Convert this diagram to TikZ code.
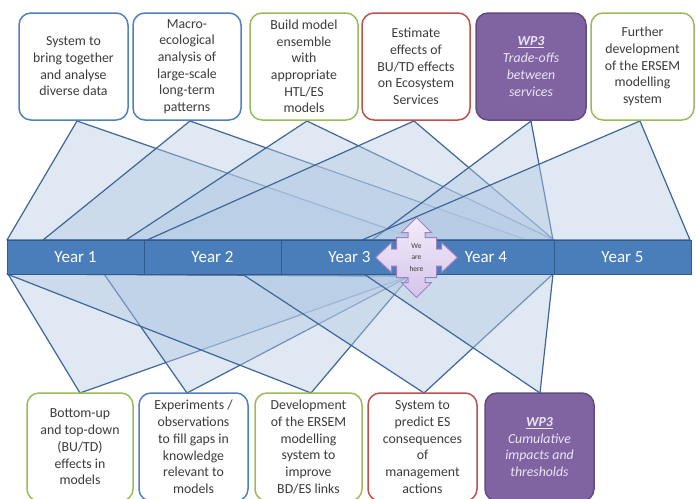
\documentclass[tikz,border=0pt]{standalone}
\usepackage{fontspec}
\setmainfont{Carlito}
\usetikzlibrary{calc}
\definecolor{tri}{RGB}{180,202,228}
\definecolor{triline}{RGB}{62,103,152}
\definecolor{barblue}{RGB}{74,126,187}
\definecolor{barline}{RGB}{52,90,138}
\definecolor{bblue}{RGB}{79,129,189}
\definecolor{bgreen}{RGB}{155,187,89}
\definecolor{bred}{RGB}{192,80,77}
\definecolor{bpurple}{RGB}{128,100,162}
\definecolor{bpurpleline}{RGB}{98,76,128}
\definecolor{txt}{RGB}{60,60,60}
\definecolor{wptxt}{RGB}{236,228,245}
\definecolor{arrtop}{RGB}{242,236,250}
\definecolor{arrbot}{RGB}{214,196,236}
\definecolor{arrline}{RGB}{158,128,192}
\tikzset{
  tribox/.style={fill=tri, fill opacity=0.42, draw=triline, draw opacity=1, line width=1.2pt, line join=round},
  card/.style={rounded corners=12pt, fill=white, line width=1.5pt, draw, align=center, inner sep=0pt,
    text=txt, font=\fontsize{13.8}{16.7}\selectfont},
  wpcard/.style={card, fill=bpurple, draw=bpurpleline, text=wptxt, font=\fontsize{13.8}{16.7}\selectfont\itshape},
  yearbox/.style={rectangle, fill=barblue, draw=barline, line width=1pt, minimum height=34pt, inner sep=0pt,
    text=white, font=\fontsize{17}{20}\selectfont},
}
\begin{document}
\begin{tikzpicture}[x=1pt,y=-1pt]
\clip (0,0) rectangle (696,498);
\fill[white] (0,0) rectangle (696,498);

% ---- top triangle points
\coordinate (a1) at (77,121);  \coordinate (l1) at (7,240);   \coordinate (r1) at (420,240);
\coordinate (a2) at (190,121); \coordinate (l2) at (43,240);  \coordinate (r2) at (527,240);
\coordinate (a3) at (307,121); \coordinate (l3) at (126,240); \coordinate (r3) at (554,240);
\coordinate (a4) at (414,121); \coordinate (l4) at (147,240); \coordinate (r4) at (554,240);
\coordinate (a5) at (531,121); \coordinate (l5) at (372,240); \coordinate (r5) at (553,240);
\coordinate (a6) at (640,121); \coordinate (l6) at (362,240); \coordinate (r6) at (690,240);
% ---- bottom triangle points
\coordinate (b1) at (80,393);  \coordinate (m1) at (8,274);   \coordinate (n1) at (410,276);
\coordinate (b2) at (187,393); \coordinate (m2) at (104,274); \coordinate (n2) at (410,276);
\coordinate (b3) at (311,393); \coordinate (m3) at (7,274);   \coordinate (n3) at (410,276);
\coordinate (b4) at (424,393); \coordinate (m4) at (242,274); \coordinate (n4) at (553,274);
\coordinate (b5) at (540,393); \coordinate (m5) at (364,274); \coordinate (n5) at (553,274);

\foreach \i in {1,...,6}{ \path[tribox] (a\i) -- (l\i) -- (r\i) -- cycle; }
\foreach \i in {1,...,5}{ \path[tribox] (b\i) -- (m\i) -- (n\i) -- cycle; }

% ---- timeline bar
\node[yearbox, minimum width=137pt] (y1) at (75.5,257) {Year 1};
\node[yearbox, minimum width=137pt] (y2) at (212.5,257) {Year 2};
\node[yearbox, minimum width=137pt] (y3) at (349.5,257) {Year 3};
\node[yearbox, minimum width=136pt] (y4) at (486,257) {Year 4};
\node[yearbox, minimum width=137pt] (y5) at (622.5,257) {Year 5};

% ---- we are here arrow
\coordinate (c) at (416.5,257.5);
\path[draw=arrline, line width=1pt, top color=arrtop, bottom color=arrbot, line join=miter]
  ($(c)+(0,-40)$) -- ++(15,15) -- ++(-6.5,0) -- ++(0,5) -- ++(11.5,0) -- ++(0,11.5)
  -- ++(5,0) -- ++(0,-6.5) -- ++(16,15) -- ++(-16,15) -- ++(0,-6.5) -- ++(-5,0) -- ++(0,11.5)
  -- ++(-11.5,0) -- ++(0,5) -- ++(6.5,0) -- ++(-15,15) -- ++(-15,-15) -- ++(6.5,0) -- ++(0,-5)
  -- ++(-11.5,0) -- ++(0,-11.5) -- ++(-5,0) -- ++(0,6.5) -- ++(-16,-15) -- ++(16,-15) -- ++(0,6.5)
  -- ++(5,0) -- ++(0,-11.5) -- ++(11.5,0) -- ++(0,-5) -- ++(-6.5,0) -- cycle;
\node[align=center, text=txt, font=\fontsize{7.5}{11.5}\selectfont, inner sep=0pt] (here) at (c) {We\\are\\here};

% ---- top cards
\node[card, draw=bblue, minimum width=109pt, minimum height=107pt] (t1) at (73.5,66.5)
  {System to\\bring together\\and analyse\\diverse data};
\node[card, draw=bblue, minimum width=108pt, minimum height=107pt] (t2) at (187,66.5)
  {Macro-\\ecological\\analysis of\\large-scale\\long-term\\patterns};
\node[card, draw=bgreen, minimum width=108pt, minimum height=107pt] (t3) at (304,66.5)
  {Build model\\ensemble\\with\\appropriate\\HTL/ES\\models};
\node[card, draw=bred, minimum width=108pt, minimum height=107pt] (t4) at (416,66.5)
  {Estimate\\effects of\\BU/TD effects\\on Ecosystem\\Services};
\node[wpcard, minimum width=110pt, minimum height=107pt] (t5) at (531,66.5)
  {\underline{\textbf{WP3}}\\Trade-offs\\between\\services};
\node[card, draw=bgreen, minimum width=103pt, minimum height=107pt] (t6) at (642.5,66.5)
  {Further\\development\\of the ERSEM\\modelling\\system};

% ---- bottom cards
\node[card, draw=bgreen, minimum width=106pt, minimum height=108pt] (d1) at (80,447)
  {Bottom-up\\and top-down\\(BU/TD)\\effects in\\models};
\node[card, draw=bblue, minimum width=109pt, minimum height=108pt] (d2) at (193.5,447)
  {Experiments /\\observations\\to fill gaps in\\knowledge\\relevant to\\models};
\node[card, draw=bgreen, minimum width=107pt, minimum height=108pt] (d3) at (308.5,447)
  {Development\\of the ERSEM\\modelling\\system to\\improve\\BD/ES links};
\node[card, draw=bred, minimum width=109pt, minimum height=108pt] (d4) at (422.5,447)
  {System to\\predict ES\\consequences\\of\\management\\actions};
\node[wpcard, minimum width=109pt, minimum height=108pt] (d5) at (539.5,447)
  {\underline{\textbf{WP3}}\\Cumulative\\impacts and\\thresholds};
\end{tikzpicture}
\end{document}
